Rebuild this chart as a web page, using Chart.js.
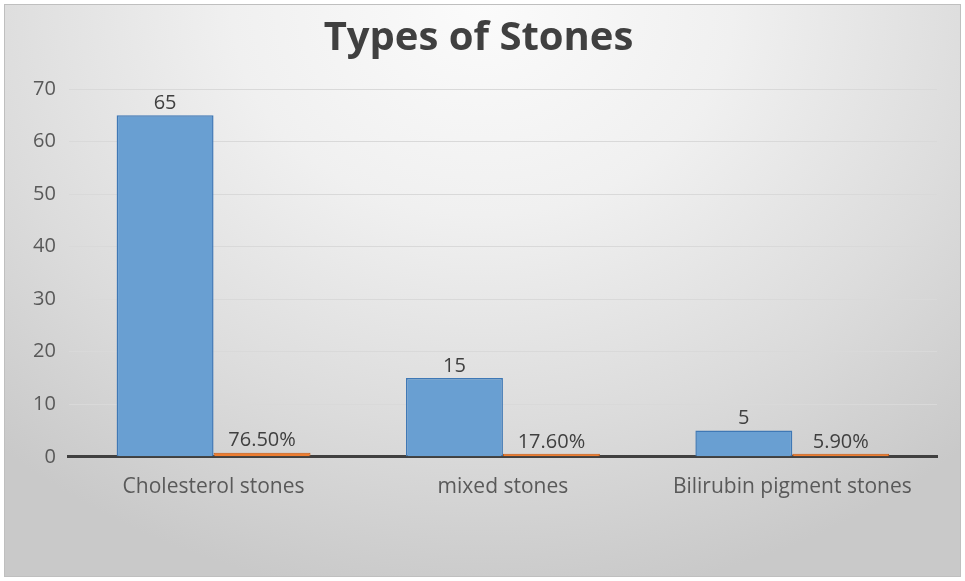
<!DOCTYPE html>
<html>
<head>
<meta charset="utf-8">
<script src="https://cdn.jsdelivr.net/npm/chart.js@4"></script>
<style>
  body { margin: 0; background: #fff; }
  #wrap {
    position: absolute; left: 4px; top: 4px;
    width: 955px; height: 571px;
    border: 1px solid #bfbfbf;
    background: radial-gradient(ellipse 75% 105% at 50% 0%, #fbfbfb 0%, #f0f0f0 35%, #dcdcdc 70%, #c9c9c9 100%);
  }
</style>
</head>
<body>
<div id="wrap"><canvas id="stones" width="955" height="571"></canvas></div>
<script>
const categories = ['Cholesterol stones', 'mixed stones', 'Bilirubin pigment stones'];
const counts = [65, 15, 5];
const shares = [0.765, 0.176, 0.059];
const yTicks = [0, 10, 20, 30, 40, 50, 60, 70];

// draws the value above each bar
const barLabels = {
  id: 'barLabels',
  afterDatasetsDraw(chart) {
    const ctx = chart.ctx;
    ctx.save();
    ctx.font = '20px "Open Sans"';
    ctx.fillStyle = '#404040';
    ctx.textAlign = 'center';
    ctx.textBaseline = 'bottom';
    chart.data.datasets.forEach((ds, i) => {
      chart.getDatasetMeta(i).data.forEach((bar, j) => {
        const v = ds.data[j];
        const txt = i === 1 ? (v * 100).toFixed(2) + '%' : String(v);
        ctx.fillText(txt, bar.x, bar.y - 2);
      });
    });
    ctx.restore();
  }
};

new Chart(document.getElementById('stones'), {
  type: 'bar',
  data: {
    labels: categories,
    datasets: [
      {
        label: 'Count',
        data: counts,
        backgroundColor: '#699fd2',
        borderColor: '#3f78b5',
        borderWidth: 1.5,
        categoryPercentage: 0.67,
        barPercentage: 1,
      },
      {
        label: 'Percent',
        data: shares,
        backgroundColor: '#ed7d31',
        borderColor: '#c55a11',
        borderWidth: 1,
        minBarLength: 3,
        categoryPercentage: 0.67,
        barPercentage: 1,
      },
    ],
  },
  options: {
    responsive: false,
    animation: false,
    layout: { padding: { left: 15, right: 23, top: 0, bottom: 66 } },
    plugins: {
      legend: { display: false },
      tooltip: { enabled: false },
      title: {
        display: true,
        text: 'Types of Stones',
        color: '#404040',
        font: { family: 'Open Sans', size: 40, weight: 'bold' },
        padding: { top: 10, bottom: 26 },
      },
    },
    scales: {
      x: {
        grid: { display: false },
        border: { color: '#404040', width: 3 },
        ticks: {
          color: '#595959',
          font: { family: 'Open Sans', size: 21 },
          padding: 10,
        },
      },
      y: {
        min: 0,
        max: 70,
        afterBuildTicks: (axis) => { axis.ticks = yTicks.map((v) => ({ value: v })); },
        grid: { color: '#d9d9d9', lineWidth: 1, drawTicks: false },
        border: { display: false },
        ticks: {
          color: '#595959',
          font: { family: 'Open Sans', size: 20 },
          padding: 13,
        },
      },
    },
  },
  plugins: [barLabels],
});
</script>
</body>
</html>
